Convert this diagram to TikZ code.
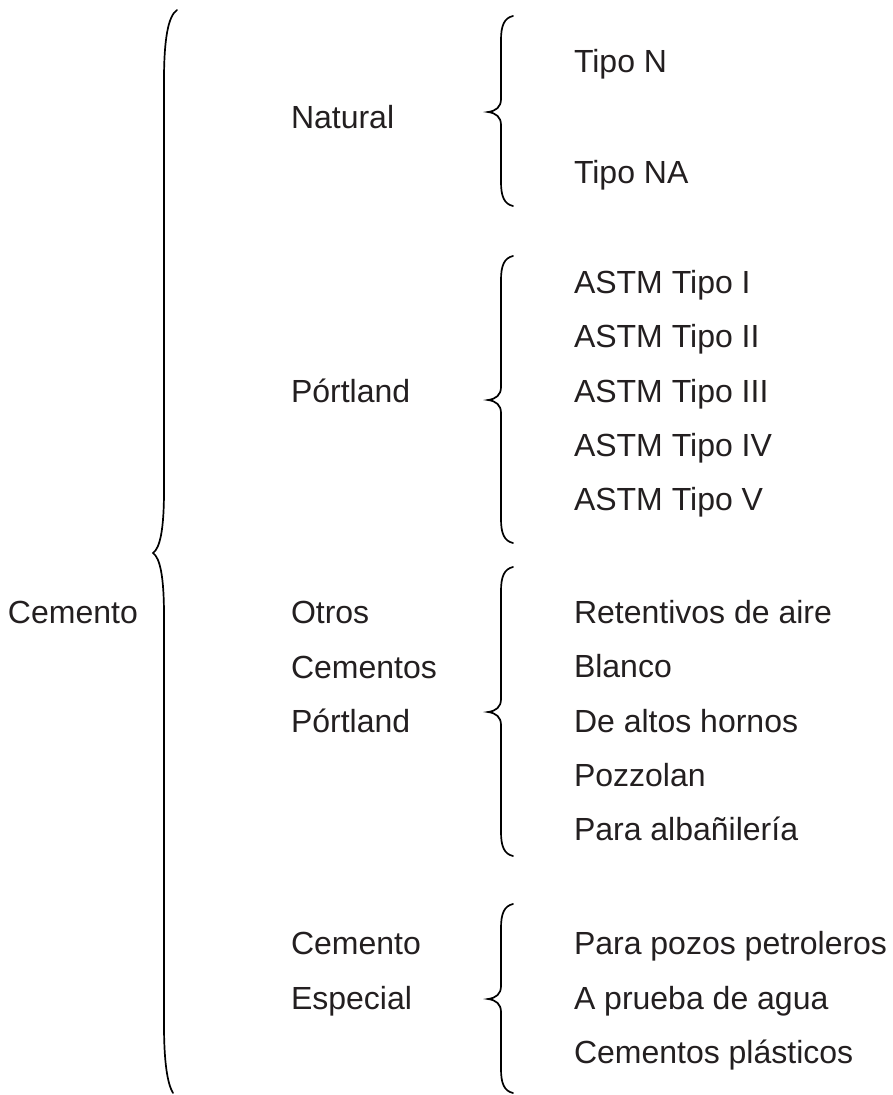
\documentclass[tikz,border=0pt]{standalone}
\usepackage{fontspec}
\setmainfont{Liberation Sans}
\definecolor{txt}{HTML}{231F20}
\newcommand{\smallbrace}[3]{%
  \draw[bracestyle] (513,#1) .. controls (504,#1+2) and (501,#1+10) .. (501,#1+24)
    -- (501,#2-13) .. controls (501,#2-5) and (496,#2-1) .. (488,#2)
    .. controls (496,#2+1) and (501,#2+5) .. (501,#2+13)
    -- (501,#3-24) .. controls (501,#3-10) and (504,#3-2) .. (513,#3);}
\begin{document}
\begin{tikzpicture}[x=1pt,y=-1pt,
  lbl/.style={anchor=base west,inner sep=0pt,outer sep=0pt,text=txt,font=\fontsize{32}{38}\selectfont},
  bracestyle/.style={draw=black,line width=1.7pt,line cap=round}]
\useasboundingbox (0,0) rectangle (892,1095);
% left
\node[lbl] (cem) at (8,623) {Cemento};
% big brace
\draw[bracestyle] (177,10) .. controls (168,16) and (164,40) .. (164,80)
  -- (164,490) .. controls (164,530) and (160,548) .. (153,553)
  .. controls (160,558) and (164,576) .. (164,616)
  -- (164,1025) .. controls (164,1060) and (167,1083) .. (173,1093);
% second column
\node[lbl] (nat) at (291,128) {Natural};
\node[lbl] (por) at (291,402) {Pórtland};
\node[lbl] (otr1) at (291,623) {Otros};
\node[lbl] (otr2) at (291,678) {Cementos};
\node[lbl] (otr3) at (291,732) {Pórtland};
\node[lbl] (esp1) at (291,954) {Cemento};
\node[lbl] (esp2) at (291,1009) {Especial};
% braces
\smallbrace{16}{112}{206}
\smallbrace{256}{400}{543}
\smallbrace{567}{712}{856}
\smallbrace{904}{999}{1093}
% third column
\node[lbl] (n1) at (574,72) {Tipo N};
\node[lbl] (n2) at (574,183) {Tipo NA};
\node[lbl] (p1) at (574,293) {ASTM Tipo I};
\node[lbl] (p2) at (574,347) {ASTM Tipo II};
\node[lbl] (p3) at (574,402) {ASTM Tipo III};
\node[lbl] (p4) at (574,456) {ASTM Tipo IV};
\node[lbl] (p5) at (574,510) {ASTM Tipo V};
\node[lbl] (o1) at (574,623) {Retentivos de aire};
\node[lbl] (o2) at (574,677) {Blanco};
\node[lbl] (o3) at (574,732) {De altos hornos};
\node[lbl] (o4) at (574,786) {Pozzolan};
\node[lbl] (o5) at (574,840) {Para albañilería};
\node[lbl] (e1) at (574,954) {Para pozos petroleros};
\node[lbl] (e2) at (574,1009) {A prueba de agua};
\node[lbl] (e3) at (574,1063) {Cementos plásticos};
\end{tikzpicture}
\end{document}
